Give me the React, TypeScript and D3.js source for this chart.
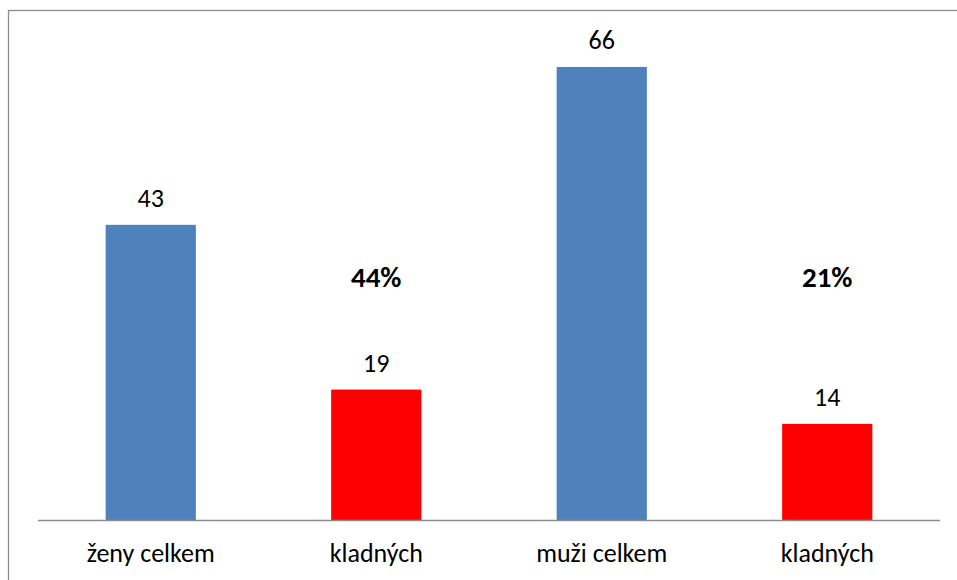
import React from "react";
import * as d3 from "d3";

const categories = ["ženy celkem", "kladných", "muži celkem", "kladných"];
const values = [43, 19, 66, 14];
const barColors = ["#4F81BD", "#FF0000", "#4F81BD", "#FF0000"];
const shareLabels = [
  { category: 1, text: "44%" },
  { category: 3, text: "21%" },
];

const W = 957;
const H = 580;
const FONT = "Carlito, Calibri, 'Open Sans', sans-serif";

export default function App() {
  const x = d3
    .scaleBand<number>()
    .domain(d3.range(categories.length))
    .range([38, 940])
    .paddingInner(0.6)
    .paddingOuter(0.3);
  const y = d3.scaleLinear().domain([0, 70]).range([520, 39.5]);

  return (
    <svg
      width={W}
      height={H}
      style={{ position: "absolute", left: 0, top: 0, background: "#fff" }}
    >
      <rect x={8.5} y={10.5} width={W + 10} height={H + 10} fill="#fff" stroke="#8c8c8c" strokeWidth={1.3} />
      {values.map((v, i) => (
        <g key={i}>
          <rect
            x={x(i)}
            y={y(v)}
            width={x.bandwidth()}
            height={y(0) - y(v)}
            fill={barColors[i]}
          />
          <text
            x={(x(i) as number) + x.bandwidth() / 2}
            y={y(v) - 18}
            textAnchor="middle"
            fontFamily={FONT}
            fontSize={26}
            fill="#000"
          >
            {v}
          </text>
          <text
            x={(x(i) as number) + x.bandwidth() / 2}
            y={562}
            textAnchor="middle"
            fontFamily={FONT}
            fontSize={26}
            fill="#000"
          >
            {categories[i]}
          </text>
        </g>
      ))}
      {shareLabels.map((s) => (
        <text
          key={s.category}
          x={(x(s.category) as number) + x.bandwidth() / 2}
          y={287}
          textAnchor="middle"
          fontFamily={FONT}
          fontSize={29}
          fontWeight="bold"
          fill="#000"
        >
          {s.text}
        </text>
      ))}
      <line x1={38} x2={940} y1={520.5} y2={520.5} stroke="#8c8c8c" strokeWidth={1.3} />
    </svg>
  );
}
